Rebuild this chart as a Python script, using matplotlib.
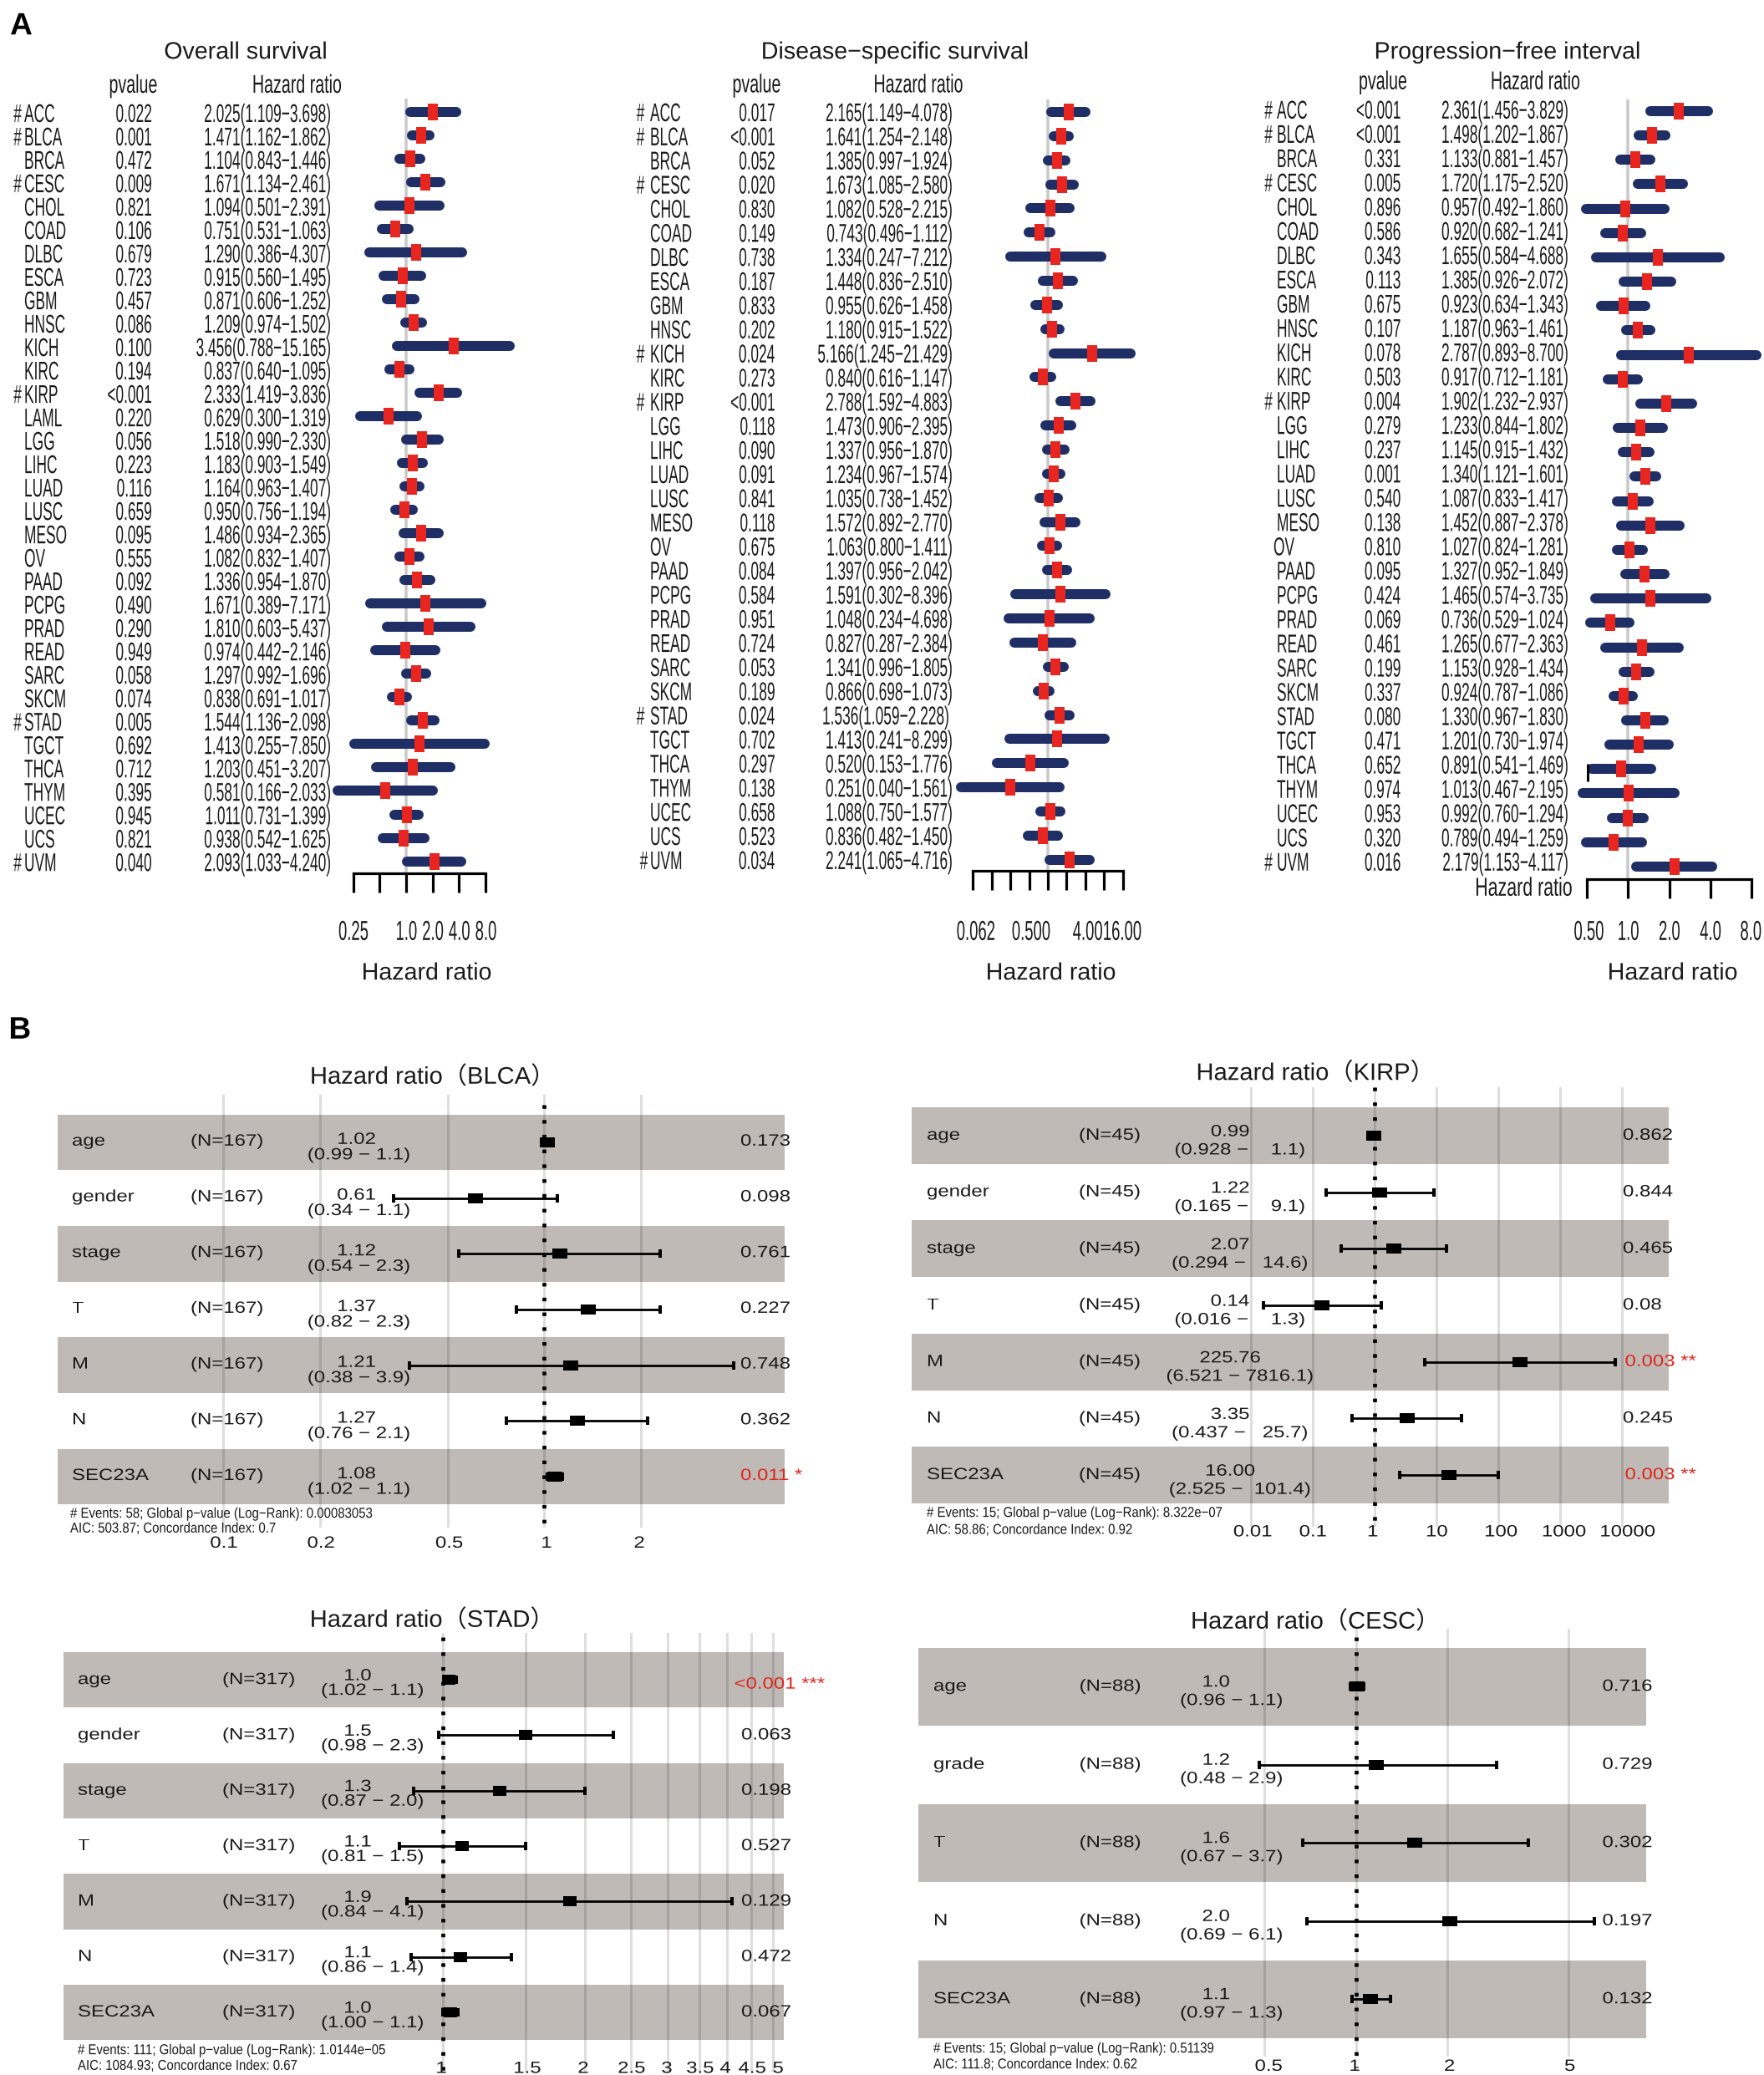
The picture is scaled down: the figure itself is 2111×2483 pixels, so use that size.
import numpy as np
import matplotlib
matplotlib.use("Agg")
import matplotlib.pyplot as plt
from matplotlib.ticker import NullLocator, NullFormatter, FixedLocator
from matplotlib.text import Text
from matplotlib.textpath import TextPath
from matplotlib.transforms import Affine2D
from matplotlib.colors import to_rgba

W, H = 2111, 2483
SANS = ['Liberation Sans', 'DejaVu Sans']
TITLE_B = ['Liberation Sans', 'Noto Sans CJK SC']
NAVY, RED, BAND = '#1F2F66', '#E8261F', '#BFBAB6'
INK = '#1a1a1a'

# ---------- Panel A data ----------
os_names = ['ACC','BLCA','BRCA','CESC','CHOL','COAD','DLBC','ESCA','GBM','HNSC','KICH','KIRC','KIRP','LAML','LGG','LIHC','LUAD','LUSC','MESO','OV','PAAD','PCPG','PRAD','READ','SARC','SKCM','STAD','TGCT','THCA','THYM','UCEC','UCS','UVM']
os_p = ['0.022','0.001','0.472','0.009','0.821','0.106','0.679','0.723','0.457','0.086','0.100','0.194','<0.001','0.220','0.056','0.223','0.116','0.659','0.095','0.555','0.092','0.490','0.290','0.949','0.058','0.074','0.005','0.692','0.712','0.395','0.945','0.821','0.040']
os_hr = [2.025,1.471,1.104,1.671,1.094,0.751,1.290,0.915,0.871,1.209,3.456,0.837,2.333,0.629,1.518,1.183,1.164,0.950,1.486,1.082,1.336,1.671,1.810,0.974,1.297,0.838,1.544,1.413,1.203,0.581,1.011,0.938,2.093]
os_lo = [1.109,1.162,0.843,1.134,0.501,0.531,0.386,0.560,0.606,0.974,0.788,0.640,1.419,0.300,0.990,0.903,0.963,0.756,0.934,0.832,0.954,0.389,0.603,0.442,0.992,0.691,1.136,0.255,0.451,0.166,0.731,0.542,1.033]
os_hi = [3.698,1.862,1.446,2.461,2.391,1.063,4.307,1.495,1.252,1.502,15.165,1.095,3.836,1.319,2.330,1.549,1.407,1.194,2.365,1.407,1.870,7.171,5.437,2.146,1.696,1.017,2.098,7.850,3.207,2.033,1.399,1.625,4.240]
os_sig = ['ACC','BLCA','CESC','KIRP','STAD','UVM']

dss_names = ['ACC','BLCA','BRCA','CESC','CHOL','COAD','DLBC','ESCA','GBM','HNSC','KICH','KIRC','KIRP','LGG','LIHC','LUAD','LUSC','MESO','OV','PAAD','PCPG','PRAD','READ','SARC','SKCM','STAD','TGCT','THCA','THYM','UCEC','UCS','UVM']
dss_p = ['0.017','<0.001','0.052','0.020','0.830','0.149','0.738','0.187','0.833','0.202','0.024','0.273','<0.001','0.118','0.090','0.091','0.841','0.118','0.675','0.084','0.584','0.951','0.724','0.053','0.189','0.024','0.702','0.297','0.138','0.658','0.523','0.034']
dss_hr = [2.165,1.641,1.385,1.673,1.082,0.743,1.334,1.448,0.955,1.180,5.166,0.840,2.788,1.473,1.337,1.234,1.035,1.572,1.063,1.397,1.591,1.048,0.827,1.341,0.866,1.536,1.413,0.520,0.251,1.088,0.836,2.241]
dss_lo = [1.149,1.254,0.997,1.085,0.528,0.496,0.247,0.836,0.626,0.915,1.245,0.616,1.592,0.906,0.956,0.967,0.738,0.892,0.800,0.956,0.302,0.234,0.287,0.996,0.698,1.059,0.241,0.153,0.040,0.750,0.482,1.065]
dss_hi = [4.078,2.148,1.924,2.580,2.215,1.112,7.212,2.510,1.458,1.522,21.429,1.147,4.883,2.395,1.870,1.574,1.452,2.770,1.411,2.042,8.396,4.698,2.384,1.805,1.073,2.228,8.299,1.776,1.561,1.577,1.450,4.716]
dss_sig = ['ACC','BLCA','CESC','KICH','KIRP','STAD','UVM']

pfi_names = dss_names
pfi_p = ['<0.001','<0.001','0.331','0.005','0.896','0.586','0.343','0.113','0.675','0.107','0.078','0.503','0.004','0.279','0.237','0.001','0.540','0.138','0.810','0.095','0.424','0.069','0.461','0.199','0.337','0.080','0.471','0.652','0.974','0.953','0.320','0.016']
pfi_hr = [2.361,1.498,1.133,1.720,0.957,0.920,1.655,1.385,0.923,1.187,2.787,0.917,1.902,1.233,1.145,1.340,1.087,1.452,1.027,1.327,1.465,0.736,1.265,1.153,0.924,1.330,1.201,0.891,1.013,0.992,0.789,2.179]
pfi_lo = [1.456,1.202,0.881,1.175,0.492,0.682,0.584,0.926,0.634,0.963,0.893,0.712,1.232,0.844,0.915,1.121,0.833,0.887,0.824,0.952,0.574,0.529,0.677,0.928,0.787,0.967,0.730,0.541,0.467,0.760,0.494,1.153]
pfi_hi = [3.829,1.867,1.457,2.520,1.860,1.241,4.688,2.072,1.343,1.461,8.700,1.181,2.937,1.802,1.432,1.601,1.417,2.378,1.281,1.849,3.735,1.024,2.363,1.434,1.086,1.830,1.974,1.469,2.195,1.294,1.259,4.117]
pfi_sig = ['ACC','BLCA','CESC','KIRP','UVM']

os_ticks = [0.25,0.5,1,2,4,8]
os_ticklabels = ['0.25','','1.0','2.0','4.0','8.0']
dss_ticks = [0.0625,0.125,0.25,0.5,1,2,4,8,16]
dss_ticklabels = ['0.062','','','0.500','','','4.00','','16.00']
pfi_ticks = [0.5,1,2,4,8]
pfi_ticklabels = ['0.50','1.0','2.0','4.0','8.0']

# ---------- Panel B data ----------
blca_rows = ['age','gender','stage','T','M','N','SEC23A']
blca_hr = [1.02,0.61,1.12,1.37,1.21,1.27,1.08]
blca_lo = [0.99,0.34,0.54,0.82,0.38,0.76,1.02]
blca_hi = [1.05,1.10,2.30,2.30,3.90,2.10,1.14]
blca_hrtxt = ['1.02','0.61','1.12','1.37','1.21','1.27','1.08']
blca_citxt = ['(0.99 − 1.1)','(0.34 − 1.1)','(0.54 − 2.3)','(0.82 − 2.3)','(0.38 − 3.9)','(0.76 − 2.1)','(1.02 − 1.1)']
blca_p = ['0.173','0.098','0.761','0.227','0.748','0.362','0.011 *']
blca_ticks = [0.1,0.2,0.5,1,2]
blca_ticklabels = ['0.1','0.2','0.5','1','2']

kirp_rows = blca_rows
kirp_hr = [0.99,1.22,2.07,0.14,225.76,3.35,16.00]
kirp_lo = [0.928,0.165,0.294,0.016,6.521,0.437,2.525]
kirp_hi = [1.06,9.1,14.6,1.3,7816.1,25.7,101.4]
kirp_hrtxt = ['0.99','1.22','2.07','0.14','225.76','3.35','16.00']
kirp_citxt = ['(0.928 −    1.1)','(0.165 −    9.1)','(0.294 −   14.6)','(0.016 −    1.3)','(6.521 − 7816.1)','(0.437 −   25.7)','(2.525 −  101.4)']
kirp_p = ['0.862','0.844','0.465','0.08','0.003 **','0.245','0.003 **']
kirp_ticks = [0.01,0.1,1,10,100,1000,10000]
kirp_ticklabels = ['0.01','0.1','1','10','100','1000','10000']

stad_rows = blca_rows
stad_hr = [1.03,1.50,1.32,1.10,1.86,1.09,1.04]
stad_lo = [1.02,0.98,0.87,0.81,0.84,0.86,1.00]
stad_hi = [1.07,2.30,2.00,1.50,4.10,1.40,1.08]
stad_hrtxt = ['1.0','1.5','1.3','1.1','1.9','1.1','1.0']
stad_citxt = ['(1.02 − 1.1)','(0.98 − 2.3)','(0.87 − 2.0)','(0.81 − 1.5)','(0.84 − 4.1)','(0.86 − 1.4)','(1.00 − 1.1)']
stad_p = ['<0.001 ***','0.063','0.198','0.527','0.129','0.472','0.067']
stad_ticks = [1,1.5,2,2.5,3,3.5,4,4.5,5]
stad_ticklabels = ['1','1.5','2','2.5','3','3.5','4','4.5','5']

cesc_rows = ['age','grade','T','N','SEC23A']
cesc_hr = [1.01,1.17,1.56,2.04,1.12]
cesc_lo = [0.96,0.48,0.67,0.69,0.97]
cesc_hi = [1.06,2.90,3.70,6.10,1.30]
cesc_hrtxt = ['1.0','1.2','1.6','2.0','1.1']
cesc_citxt = ['(0.96 − 1.1)','(0.48 − 2.9)','(0.67 − 3.7)','(0.69 − 6.1)','(0.97 − 1.3)']
cesc_p = ['0.716','0.729','0.302','0.197','0.132']
cesc_ticks = [0.5,1,2,5]
cesc_ticklabels = ['0.5','1','2','5']

fig = plt.figure(figsize=(W/100, H/100), dpi=100, facecolor='white')
pt = lambda px: px*0.72


class ScaledText(Text):
    """A Text whose glyphs are drawn stretched by (sx, sy); (x, y) refers to the digit mid-height."""

    def __init__(self, *a, sx=1.0, sy=1.0, **kw):
        super().__init__(*a, **kw)
        self._sx, self._sy = sx, sy

    def draw(self, renderer):
        if not self.get_visible() or not self.get_text().strip():
            return
        size = self.get_fontsize()*self.get_figure().dpi/72
        tp = TextPath((0, 0), self.get_text(), size=size, prop=self.get_fontproperties())
        x0, x1 = tp.vertices[:, 0].min(), tp.vertices[:, 0].max()
        off = {'left': x0, 'center': (x0+x1)/2, 'right': x1}[self.get_ha()]
        px, py = self.get_transform().transform(self.get_position())
        tr = Affine2D().translate(-off, -0.358*size).scale(self._sx, self._sy).translate(px, py)
        gc = renderer.new_gc()
        gc.set_linewidth(0)
        renderer.draw_path(gc, tp, tr, to_rgba(self.get_color()))
        gc.restore()


def T(x, y, s, size, xs=1.0, fam=SANS, ha='center', color=INK, **kw):
    nominal = size*min(1.0, xs)
    t = ScaledText(x/W, 1-y/H, s, sx=xs*size/nominal, sy=size/nominal, fontsize=pt(nominal),
                   family=fam, ha=ha, va='center', color=color, **kw)
    t.set_figure(fig)
    t.set_transform(fig.transFigure)
    fig.texts.append(t)
    return t


def px_axes(x0, x1, top, bottom):
    ax = fig.add_axes([x0/W, 1-bottom/H, (x1-x0)/W, (bottom-top)/H])
    ax.patch.set_alpha(0)
    return ax


def log_lim(v1, p1, v2, p2, x0, x1):
    k = (np.log(v2)-np.log(v1))/(p2-p1)
    return np.exp(np.log(v1)+(x0-p1)*k), np.exp(np.log(v1)+(x1-p1)*k)


ROW = dict(size=30.7, xs=0.565)
TICK_A = dict(size=33, xs=0.56)
HEAD = dict(size=30.7, xs=0.64)


def panel_a(title, title_x, names, p, hr, lo, hi, sig, ticks, ticklabels, x_one, x_per2,
            axis_y, ax_top, bar_y0, bar_dy, text_y0, text_dy, x_hash, x_name, x_p, x_hr,
            head_y, head_p_x, head_hr_x, bottom_x, tick_dx, name_dx={}, hash_dx={}, hr_dx={}):
    T(title_x, 60, title, 28.6)
    T(head_p_x, head_y, 'pvalue', **HEAD)
    T(head_hr_x, head_y, 'Hazard ratio', **HEAD)
    for i, n in enumerate(names):
        y = text_y0 + i*text_dy
        T(x_name+name_dx.get(n, 0), y, n, ha='left', **ROW)
        T(x_p, y, p[i], ha='right', **ROW)
        T(x_hr+hr_dx.get(n, 0), y, f'{hr[i]:.3f}({lo[i]:.3f}−{hi[i]:.3f})', ha='right', **ROW)
        if n in sig:
            T(x_hash+hash_dx.get(n, 0), y, '#', **ROW)
    xa = x_one+np.log2(ticks[0])*x_per2
    xb = x_one+np.log2(ticks[-1])*x_per2
    ax = px_axes(xa, xb, ax_top, axis_y)
    ax.set_xscale('log', base=2)
    ax.set_xlim(ticks[0], ticks[-1])
    ax.set_ylim((axis_y-bar_y0)/bar_dy, (ax_top-bar_y0)/bar_dy)
    ax.axvline(1, color='#C9C9C9', lw=pt(3.5), zorder=1)
    rows = np.arange(len(names))
    for i in rows:
        ax.plot([lo[i], hi[i]], [i, i], color=NAVY, lw=pt(12), solid_capstyle='round', clip_on=False, zorder=2)
    ax.plot(hr, rows, ls='none', marker=[(-0.62, -1), (0.62, -1), (0.62, 1), (-0.62, 1)], ms=pt(20.5),
            color=RED, mew=0, clip_on=False, zorder=3)
    for s in ['top', 'left', 'right']:
        ax.spines[s].set_visible(False)
    ax.spines['bottom'].set_linewidth(pt(3.2))
    ax.yaxis.set_major_locator(NullLocator())
    ax.xaxis.set_major_locator(FixedLocator(ticks))
    ax.xaxis.set_major_formatter(NullFormatter())
    ax.xaxis.set_minor_locator(NullLocator())
    ax.xaxis.set_minor_formatter(NullFormatter())
    ax.tick_params(axis='x', length=pt(23), width=pt(3.2))
    for t, lab, dx in zip(ticks, ticklabels, tick_dx):
        if lab:
            T(x_one+np.log2(t)*x_per2+dx, 1113, lab, **TICK_A)
    T(bottom_x, 1162, 'Hazard ratio', 28.6)
    return ax


panel_a('Overall survival', 293, os_names, os_p, os_hr, os_lo, os_hi, os_sig, os_ticks, os_ticklabels,
        486, 31.7, 1045, 118, 133.6, 28.03, 135, 28.01, 21, 29, 181, 395, 100, 159, 355, 510, [0]*6)
panel_a('Disease−specific survival', 1070, dss_names, dss_p, dss_hr, dss_lo, dss_hi, dss_sig, dss_ticks, dss_ticklabels,
        1254, 22.4, 1042, 118.6, 134, 28.86, 134, 28.87, 766.5, 778, 926.8, 1138.8, 99.5, 905, 1098.6, 1257,
        [3, 0, 0, 2, 0, 0, 2.5, 0, -1], hash_dx={'UVM': 4}, hr_dx={'STAD': -4})
axp = panel_a('Progression−free interval', 1803, pfi_names, pfi_p, pfi_hr, pfi_lo, pfi_hi, pfi_sig, pfi_ticks, pfi_ticklabels,
              1948.3, 49.2, 1052, 118.6, 133, 29.16, 130.9, 29.03, 1518, 1528, 1675.6, 1875.8, 95.7, 1654.5, 1837, 2001,
              [2, 0, 0, 0, -1], name_dx={'OV': -4})
axp.plot([0.503, 0.503], [26.8, 27.5], color='black', lw=pt(3), solid_capstyle='butt', clip_on=False, zorder=3)
T(1823, 1060.7, 'Hazard ratio', 31, xs=0.69)
T(25, 28, 'A', 37, color='black', weight='bold')
T(23, 1229.5, 'B', 37, color='black', weight='bold')

BODY = dict(size=19.5, xs=1.23)


def panel_b(title, title_x, title_y, rows, hr, lo, hi, hrtxt, citxt, ptxt, n_label, ticks, ticklabels, tick_dx,
            anchor, band_x, band_top, row_h, grid_top, grid_bottom, dot_top, dot_bottom, tick_y,
            x_label, x_n, x_hr, x_ci, x_p, dy_label, dy_hr, dy_ci, dy_p, foot, foot_x, foot_y, ms=(17.7, 12.5), red_dx=0):
    T(title_x, title_y, title, 28.6, xs=1.02, fam=TITLE_B)
    ax = px_axes(band_x[0], band_x[1], grid_top, grid_bottom)
    ax.set_xscale('log')
    ax.set_xlim(*log_lim(*anchor, band_x[0], band_x[1]))
    ax.set_ylim((grid_bottom-band_top)/row_h, (grid_top-band_top)/row_h)
    n = len(rows)
    for i in range(0, n, 2):
        ax.axhspan(i, i+1, color=BAND, lw=0, zorder=0)
    ax.set_axisbelow(False)
    ax.xaxis.set_major_locator(FixedLocator(ticks))
    ax.xaxis.set_major_formatter(NullFormatter())
    ax.xaxis.set_minor_locator(NullLocator())
    ax.xaxis.set_minor_formatter(NullFormatter())
    ax.yaxis.set_major_locator(NullLocator())
    ax.grid(axis='x', color='black', alpha=0.13, lw=pt(3))
    for s in ax.spines.values():
        s.set_visible(False)
    ax.tick_params(axis='x', length=0)
    ax.plot([1, 1], [(dot_top-band_top)/row_h, (dot_bottom-band_top)/row_h], color='black', lw=pt(4.7),
            ls=(0, (0.92, 2.85)), dash_capstyle='butt', zorder=3, clip_on=False)
    ymid = np.arange(n)+0.5
    for i in range(n):
        ax.plot([lo[i], hi[i]], [ymid[i], ymid[i]], color='black', lw=pt(2.8), solid_capstyle='butt', zorder=4, clip_on=False)
        ax.plot([lo[i], hi[i]], [ymid[i], ymid[i]], ls='none', marker='|', ms=pt(10), mew=pt(4), color='black', zorder=4, clip_on=False)
    r = ms[1]/ms[0]
    ax.plot(hr, ymid, ls='none', marker=[(-1, -r), (1, -r), (1, r), (-1, r)], ms=pt(ms[0]), color='black', mew=0, zorder=5, clip_on=False)
    k = (anchor[3]-anchor[1])/(np.log(anchor[2])-np.log(anchor[0]))
    for t, lab, dx in zip(ticks, ticklabels, tick_dx):
        T(anchor[1]+(np.log(t)-np.log(anchor[0]))*k+dx, tick_y, lab, **BODY)
    for i, name in enumerate(rows):
        y = band_top+(i+0.5)*row_h
        T(x_label, y+dy_label, name, ha='left', **BODY)
        T(x_n, y+dy_label, n_label, ha='left', **BODY)
        T(x_hr, y+dy_hr, hrtxt[i], **BODY)
        T(x_ci, y+dy_ci, citxt[i], **BODY)
        red = '*' in ptxt[i]
        T(x_p+(red_dx if red else 0), y+dy_p[i], ptxt[i], ha='left', color='#E1251B' if red else INK, **BODY)
    for s, yy in zip(foot, foot_y):
        T(foot_x, yy, s, 17.2, xs=0.87, ha='left')


panel_b('Hazard ratio（BLCA）', 507.5, 1286.5, blca_rows, blca_hr, blca_lo, blca_hi, blca_hrtxt, blca_citxt, blca_p,
        '(N=167)', blca_ticks, blca_ticklabels, [0, 0.6, 1.3, 2, -2.5], (1, 651.4, 2, 767), (69, 938.5), 1333.5, 66.7,
        1310, 1828, 1322, 1823, 1845, 86, 228, 426, 428.7, 886, -3, -5, 13.5, [-3]*7,
        ['# Events: 58; Global p−value (Log−Rank): 0.00083053', 'AIC: 503.87; Concordance Index: 0.7'], 84, [1810, 1827.7])
panel_b('Hazard ratio（KIRP）', 1564, 1282, kirp_rows, kirp_hr, kirp_lo, kirp_hi, kirp_hrtxt, kirp_citxt, kirp_p,
        '(N=45)', kirp_ticks, kirp_ticklabels, [2, 0, -2.7, 0, 2.7, 4, 6], (1, 1644.8, 100, 1793), (1090.6, 1997.4), 1325, 67.7,
        1301, 1827, 1301, 1827, 1831.5, 1109, 1291, 1471.6, 1483, 1942, -2, -6.3, 15.6, [-2]*7,
        ['# Events: 15; Global p−value (Log−Rank): 8.322e−07', 'AIC: 58.86; Concordance Index: 0.92'], 1109, [1809, 1829.4], red_dx=2.5)
panel_b('Hazard ratio（STAD）', 507, 1936.5, stad_rows, stad_hr, stad_lo, stad_hi, stad_hrtxt, stad_citxt, stad_p,
        '(N=317)', stad_ticks, stad_ticklabels, [-2, 1.3, -2.5, 0.6, -2, 0, -2.5, 0.6, 5.7], (1, 529.5, 5, 925), (76, 938), 1977, 66.3,
        1954, 2480, 1959, 2480, 2473.5, 93, 266, 427.5, 445, 887, -2, -6.5, 11, [3.5]+[-2]*6,
        ['# Events: 111; Global p−value (Log−Rank): 1.0144e−05', 'AIC: 1084.93; Concordance Index: 0.67'], 93, [2452, 2470.7],
        ms=(16.6, 12.3), red_dx=-8.5)
panel_b('Hazard ratio（CESC）', 1564, 1938.5, cesc_rows, cesc_hr, cesc_lo, cesc_hi, cesc_hrtxt, cesc_citxt, cesc_p,
        '(N=88)', cesc_ticks, cesc_ticklabels, [4.7, -2, 2, 1.4], (1, 1622.5, 2, 1732), (1099.4, 1970.3), 1971.5, 93.5,
        1948.5, 2461, 1959, 2474, 2471, 1117, 1291.6, 1454.7, 1473, 1917.5, -2, -7, 15, [-2]*5,
        ['# Events: 15; Global p−value (Log−Rank): 0.51139', 'AIC: 111.8; Concordance Index: 0.62'], 1117, [2450, 2469],
        ms=(18, 12.7))

fig.savefig('out.png', dpi=100, facecolor='white')
